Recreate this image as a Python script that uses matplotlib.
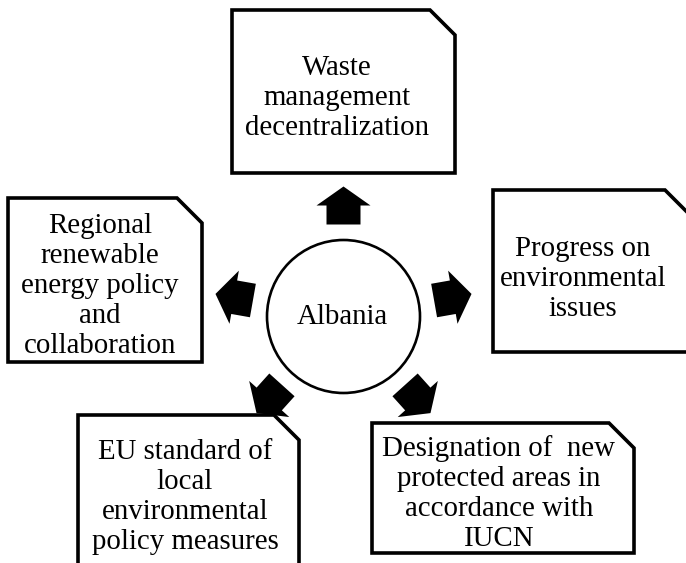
import numpy as np
import matplotlib.pyplot as plt
from matplotlib.patches import Polygon, Circle, FancyArrow

# diagram content
center_label = "Albania"
box_labels = [
    "Waste\nmanagement\ndecentralization",
    "Progress on\nenvironmental\nissues",
    "Designation of  new\nprotected areas in\naccordance with\nIUCN",
    "EU standard of\nlocal\nenvironmental\npolicy measures",
    "Regional\nrenewable\nenergy policy\nand\ncollaboration",
]
arrow_angles = [90, 10, -48, -132, 170]  # degrees, pointing out from the hub

# layout in pixel units (y grows downwards)
W, H = 686, 563
cx, cy, radius = 343.5, 316.5, 76.5
box_rects = [  # left, top, right, bottom
    (232, 10, 455, 173),
    (493, 190, 690, 352),
    (372, 423, 634, 553),
    (78, 415, 299, 572),
    (8, 198, 202, 362),
]
text_pos = [(337, 98), (583, 279), (499, 494), (185, 497), (100, 286)]
cut = 25
font = "Liberation Serif"

fig = plt.figure(figsize=(W / 100, H / 100), dpi=100)
ax = fig.add_axes([0, 0, 1, 1])
ax.set_xlim(0, W)
ax.set_ylim(H, 0)
ax.set_aspect("equal")
ax.axis("off")

for (l, t, r, b), label, (tx, ty) in zip(box_rects, box_labels, text_pos):
    pts = [(l, t), (r - cut, t), (r, t + cut), (r, b), (l, b)]
    ax.add_patch(Polygon(pts, closed=True, facecolor="white",
                         edgecolor="black", lw=2.6, zorder=1))
    ax.text(tx, ty, label, ha="center", va="center", multialignment="center",
            fontsize=20.8, family=font, linespacing=1.2, zorder=2)

ax.add_patch(Circle((cx, cy), radius, facecolor="white", edgecolor="black",
                    lw=1.9, zorder=1))
ax.text(cx - 1, cy + 1, center_label, ha="center", va="center",
        fontsize=20.8, family=font, zorder=2)

r0, length = 92, 38
for ang in arrow_angles:
    ux, uy = np.cos(np.radians(ang)), -np.sin(np.radians(ang))
    ax.add_patch(FancyArrow(cx + r0 * ux, cy + r0 * uy, length * ux, length * uy,
                            width=34, head_width=54, head_length=19,
                            length_includes_head=True, color="black", lw=0,
                            zorder=3))

fig.savefig("out.png", dpi=100, facecolor="white")
